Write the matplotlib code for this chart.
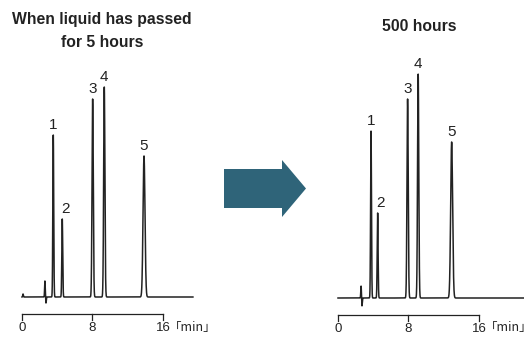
import matplotlib.pyplot as plt
import matplotlib.patches as mpatches
import numpy as np

plt.rcParams['font.family'] = ['Liberation Sans', 'DejaVu Sans']

# retention times (min) and peak heights (detector units)
peak_names = ['1', '2', '3', '4', '5']
left_rt = [3.55, 4.57, 8.02, 9.34, 13.85]
left_h = [162, 78, 198, 210, 141]
left_w = [0.05, 0.05, 0.07, 0.07, 0.11]
right_rt = [3.75, 4.50, 7.90, 9.10, 12.90]
right_h = [167, 85, 199, 224, 156]
right_w = [0.05, 0.05, 0.07, 0.07, 0.11]

# injection disturbance: (time, height)
left_art = [(0.12, 3), (2.6, 16), (2.72, -6)]
right_art = [(2.62, 12), (2.72, -8)]

scale_ticks = [0, 8, 16]
titles = ['When liquid has passed\nfor 5 hours', '500 hours']

LINE = '#222222'


def trace(t, rts, hs, ws, arts):
    y = np.zeros_like(t)
    for rt, h, w in zip(rts, hs, ws):
        y += h * np.exp(-0.5 * ((t - rt) / w) ** 2)
    for rt, h in arts:
        y += h * np.exp(-0.5 * ((t - rt) / 0.035) ** 2)
    return y


def panel(ax, rts, hs, ws, arts, t_end):
    t = np.linspace(0, t_end, 4000)
    ax.plot(t, trace(t, rts, hs, ws, arts), color=LINE, lw=1.1)
    for name, rt, h in zip(peak_names, rts, hs):
        dx = 0.35 if name == '2' else 0
        ax.text(rt + dx, h + 3, name, ha='center', va='bottom', fontsize=11, color=LINE)
    # time scale bar
    ax.plot([scale_ticks[0], scale_ticks[-1]], [-17, -17], color=LINE, lw=0.9)
    for tk in scale_ticks:
        ax.plot([tk, tk], [-17, -23], color=LINE, lw=0.9)
        ax.text(tk, -25, str(tk), ha='center', va='top', fontsize=9.5, color=LINE)
    ax.text(scale_ticks[-1] + 0.7, -23.5, '「min」', ha='left', va='top', fontsize=9,
            color=LINE, family=['Noto Sans CJK JP', 'DejaVu Sans'])
    ax.axis('off')


fig = plt.figure(figsize=(5.24, 3.38), dpi=100)

ax1 = fig.add_axes([0, 0, 200 / 524, 1])
panel(ax1, left_rt, left_h, left_w, left_art, 19.4)
ax1.set_xlim(-22 / 8.81, 178 / 8.81)
ax1.set_ylim(-41, 297)

ax2 = fig.add_axes([310 / 524, 0, 214 / 524, 1])
panel(ax2, right_rt, right_h, right_w, right_art, 21.2)
ax2.set_xlim(-28 / 8.81, 186 / 8.81)
ax2.set_ylim(-40, 298)

fig.text(102 / 524, 1 - 12 / 338, titles[0], ha='center', va='top', fontsize=11.3,
         fontweight='bold', color='#222222', linespacing=1.65)
fig.text(419 / 524, 1 - 19 / 338, titles[1], ha='center', va='top', fontsize=11.3,
         fontweight='bold', color='#222222')

# arrow between panels
pts = [(224, 169), (282, 169), (282, 160), (306, 188.5), (282, 217), (282, 208), (224, 208)]
pts = [(x / 524, 1 - y / 338) for x, y in pts]
fig.patches.append(mpatches.Polygon(pts, closed=True, transform=fig.transFigure,
                                    facecolor='#2f6479', edgecolor='none'))

fig.savefig('out.png', dpi=100)
